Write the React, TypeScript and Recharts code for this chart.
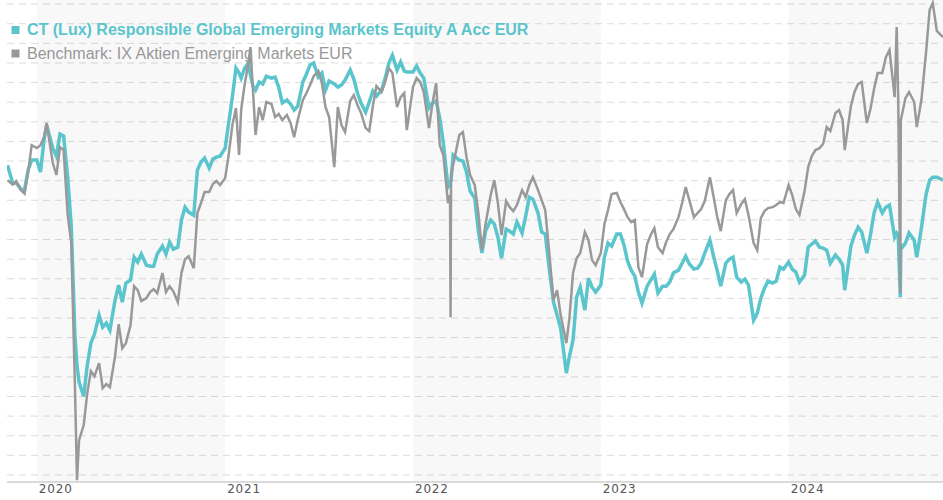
import React from "react";
import { LineChart, Line, XAxis, YAxis, CartesianGrid, ReferenceArea } from "recharts";

// Sample dates (about weekly, plus a few extra days around sharp moves)
const dates = [
  "2019-11-05", "2019-11-15", "2019-11-22", "2019-12-01", "2019-12-08", "2019-12-15", "2019-12-22",
  "2020-01-01", "2020-01-08", "2020-01-15", "2020-01-20", "2020-02-01", "2020-02-08", "2020-02-15", "2020-02-22",
  "2020-03-01", "2020-03-08", "2020-03-15", "2020-03-19", "2020-03-23", "2020-04-01", "2020-04-08", "2020-04-15", "2020-04-22",
  "2020-05-01", "2020-05-08", "2020-05-15", "2020-05-22", "2020-06-01", "2020-06-08", "2020-06-15", "2020-06-22",
  "2020-07-01", "2020-07-08", "2020-07-15", "2020-07-22", "2020-08-01", "2020-08-08", "2020-08-15", "2020-08-22",
  "2020-09-01", "2020-09-08", "2020-09-15", "2020-09-22", "2020-10-01", "2020-10-08", "2020-10-15", "2020-10-22",
  "2020-11-01", "2020-11-08", "2020-11-15", "2020-11-22", "2020-12-01", "2020-12-08", "2020-12-15", "2020-12-22",
  "2021-01-01", "2021-01-08", "2021-01-15", "2021-01-22", "2021-01-28", "2021-02-01", "2021-02-08", "2021-02-15", "2021-02-19", "2021-02-24",
  "2021-03-01", "2021-03-08", "2021-03-15", "2021-03-22", "2021-04-01", "2021-04-08", "2021-04-15", "2021-04-22",
  "2021-05-01", "2021-05-08", "2021-05-15", "2021-05-22", "2021-06-01", "2021-06-08", "2021-06-15", "2021-06-22",
  "2021-07-01", "2021-07-08", "2021-07-15", "2021-07-22", "2021-08-01", "2021-08-08", "2021-08-15", "2021-08-22",
  "2021-09-01", "2021-09-08", "2021-09-15", "2021-09-22", "2021-10-01", "2021-10-08", "2021-10-15", "2021-10-22",
  "2021-11-01", "2021-11-08", "2021-11-15", "2021-11-22", "2021-12-01", "2021-12-08", "2021-12-15", "2021-12-20",
  "2022-01-01", "2022-01-08", "2022-01-15", "2022-01-22", "2022-02-01", "2022-02-08", "2022-02-15", "2022-02-22",
  "2022-03-01", "2022-03-10", "2022-03-14", "2022-03-15", "2022-03-16", "2022-03-20", "2022-04-01", "2022-04-08", "2022-04-15", "2022-04-22",
  "2022-05-01", "2022-05-08", "2022-05-15", "2022-05-22", "2022-06-01", "2022-06-08", "2022-06-15", "2022-06-22",
  "2022-07-01", "2022-07-08", "2022-07-15", "2022-07-22", "2022-08-01", "2022-08-08", "2022-08-15", "2022-08-22",
  "2022-09-01", "2022-09-08", "2022-09-15", "2022-09-22", "2022-10-01", "2022-10-08", "2022-10-15", "2022-10-26",
  "2022-11-01", "2022-11-08", "2022-11-15", "2022-11-22", "2022-12-01", "2022-12-08", "2022-12-15", "2022-12-22",
  "2023-01-01", "2023-01-08", "2023-01-15", "2023-01-22", "2023-02-01", "2023-02-08", "2023-02-15", "2023-02-22",
  "2023-03-01", "2023-03-08", "2023-03-15", "2023-03-22", "2023-04-01", "2023-04-08", "2023-04-15", "2023-04-22",
  "2023-05-01", "2023-05-08", "2023-05-15", "2023-05-22", "2023-06-01", "2023-06-08", "2023-06-15", "2023-06-22",
  "2023-07-01", "2023-07-08", "2023-07-15", "2023-07-22", "2023-08-01", "2023-08-08", "2023-08-15", "2023-08-22",
  "2023-09-01", "2023-09-08", "2023-09-15", "2023-09-22", "2023-10-01", "2023-10-08", "2023-10-15", "2023-10-25",
  "2023-11-01", "2023-11-08", "2023-11-15", "2023-11-22", "2023-12-01", "2023-12-08", "2023-12-15", "2023-12-22",
  "2024-01-01", "2024-01-08", "2024-01-15", "2024-01-22", "2024-02-01", "2024-02-08", "2024-02-15", "2024-02-22",
  "2024-03-01", "2024-03-08", "2024-03-15", "2024-03-22", "2024-04-01", "2024-04-08", "2024-04-15", "2024-04-19",
  "2024-05-01", "2024-05-08", "2024-05-15", "2024-05-22", "2024-06-01", "2024-06-08", "2024-06-15", "2024-06-22",
  "2024-07-01", "2024-07-08", "2024-07-15", "2024-07-25", "2024-07-29", "2024-08-01", "2024-08-05", "2024-08-06", "2024-08-09", "2024-08-15", "2024-08-22",
  "2024-09-01", "2024-09-06", "2024-09-15", "2024-09-24", "2024-10-01", "2024-10-07", "2024-10-15", "2024-10-27",
];

// CT (Lux) Responsible Global Emerging Markets Equity A Acc EUR
const fundValues = [
  177.9, 168.8, 168.8, 165.7, 165.2, 175.4, 180.5,
  180.5, 174.4, 190.7, 198.4, 186.6, 182.5, 193.8, 192.7,
  171.8, 146.3, 91.2, 75.9, 67.3, 60.1, 75.9, 87.2, 91.8,
  101.4, 95.3, 97.4, 93.8, 109.1, 116.8, 108.1, 117.8,
  119.3, 131.0, 128.5, 132.6, 126.9, 126.4, 126.4, 132.6,
  136.6, 132.6, 138.7, 135.1, 136.1, 149.9, 156.5, 154.0,
  152.4, 175.4, 179.5, 181.5, 176.4, 181.0, 182.0, 182.5,
  186.6, 199.9, 212.6, 227.4, 224.9, 222.3, 227.4, 230.0, 223.9, 218.2,
  216.2, 220.3, 219.3, 223.3, 222.3, 222.8, 217.7, 209.6,
  211.1, 209.1, 206.0, 208.0, 220.3, 224.4, 229.0, 230.0,
  222.8, 224.9, 216.2, 220.8, 219.3, 217.7, 218.8, 221.3,
  226.4, 221.8, 214.7, 209.6, 205.0, 210.1, 215.7, 213.1,
  216.2, 222.3, 230.0, 234.0, 226.4, 230.5, 225.9, 225.4,
  225.4, 228.4, 224.9, 222.3, 207.0, 209.6, 210.6, 201.9,
  189.2, 166.7, 168.3, 169.3, 170.3, 183.1, 180.5, 180.0, 174.4, 164.7,
  161.1, 144.3, 133.1, 144.3, 149.9, 147.9, 141.2, 130.5,
  145.3, 144.3, 142.8, 148.9, 143.3, 151.9, 161.6, 160.6,
  153.5, 143.8, 142.8, 126.9, 108.1, 101.5, 94.8, 71.9,
  80.5, 88.7, 110.6, 115.7, 104.0, 120.3, 115.7, 113.2,
  116.8, 131.0, 138.2, 136.6, 142.8, 142.8, 137.2, 129.0,
  124.4, 121.3, 113.2, 107.6, 116.2, 119.3, 122.4, 112.7,
  116.2, 116.2, 118.3, 122.9, 124.4, 127.9, 131.5, 127.5,
  124.9, 125.4, 128.0, 133.1, 139.7, 131.5, 124.4, 116.2,
  128.0, 130.0, 131.0, 120.8, 118.3, 119.8, 116.8, 98.9,
  102.5, 110.1, 115.2, 118.8, 117.8, 118.8, 125.9, 124.9,
  128.5, 124.9, 123.4, 118.3, 121.9, 136.1, 137.7, 139.2,
  136.1, 135.6, 134.6, 127.9, 132.1, 130.0, 127.0, 114.2,
  136.6, 142.3, 146.3, 143.8, 133.1, 142.3, 153.5, 159.1,
  153.5, 156.5, 157.6, 141.2, 143.3, 142.2, 110.6, 137.2, 136.1, 138.2, 143.3,
  139.7, 131.0, 145.8, 162.9, 170.3, 171.8, 171.8, 170.3,
];

// Benchmark: IX Aktien Emerging Markets EUR
const benchmarkValues = [
  170.3, 168.0, 169.8, 165.2, 163.4, 174.4, 188.1,
  186.6, 188.1, 192.2, 199.4, 179.0, 172.9, 187.1, 185.6,
  152.4, 138.2, 65.7, 17.3, 37.7, 45.3, 61.7, 72.9, 70.3,
  77.0, 64.2, 66.3, 64.7, 80.5, 96.9, 84.6, 87.2,
  96.3, 116.2, 114.2, 108.6, 110.1, 113.2, 114.7, 112.7,
  122.9, 113.2, 116.2, 113.7, 108.1, 122.9, 130.0, 131.5,
  125.4, 153.5, 158.6, 164.2, 164.2, 168.3, 169.8, 167.8,
  171.3, 183.6, 198.4, 207.0, 183.1, 206.0, 219.3, 229.5, 238.1, 216.2,
  193.3, 207.5, 200.9, 210.1, 209.1, 202.4, 204.0, 200.9,
  203.5, 199.4, 192.2, 200.9, 211.1, 214.7, 218.8, 223.3,
  225.9, 219.8, 207.5, 202.4, 176.9, 207.5, 198.4, 194.8,
  210.6, 213.6, 208.6, 204.5, 196.8, 195.3, 208.0, 218.2,
  215.2, 220.3, 227.4, 224.9, 207.5, 212.6, 214.7, 195.8,
  217.7, 222.3, 220.3, 215.2, 196.8, 209.6, 219.8, 188.1,
  183.1, 158.6, 162.7, 100.4, 172.9, 178.0, 193.3, 194.8, 182.0, 172.9,
  167.8, 153.5, 134.6, 147.9, 162.7, 170.3, 158.6, 142.3,
  159.6, 156.5, 154.5, 157.6, 165.2, 161.6, 167.8, 171.8,
  165.2, 160.1, 155.0, 135.6, 109.1, 114.2, 101.5, 87.2,
  99.9, 122.9, 130.5, 133.1, 143.8, 139.7, 129.5, 126.9,
  133.1, 147.9, 155.0, 163.2, 163.7, 159.1, 155.5, 151.4,
  148.9, 149.9, 125.9, 120.8, 137.7, 142.3, 145.8, 136.1,
  133.1, 138.7, 142.8, 145.3, 151.4, 158.6, 166.7, 160.1,
  151.4, 153.5, 155.5, 159.6, 171.8, 162.1, 151.9, 144.3,
  160.1, 163.2, 165.2, 153.5, 158.1, 160.6, 152.5, 138.2,
  134.6, 150.9, 154.5, 156.0, 156.5, 157.6, 159.1, 158.6,
  167.8, 162.7, 155.5, 152.5, 164.7, 176.9, 182.5, 185.6,
  186.6, 188.7, 197.3, 195.3, 204.5, 206.0, 200.9, 185.6,
  208.0, 215.2, 219.3, 220.3, 199.4, 206.5, 216.7, 224.9,
  224.9, 233.0, 236.6, 212.6, 248.3, 211.1, 112.7, 200.9, 204.5, 212.1, 215.2,
  210.1, 197.3, 211.1, 235.1, 257.0, 260.6, 246.3, 243.2,
];

const yearTicks = ["2020-01-01", "2021-01-01", "2022-01-01", "2023-01-01", "2024-01-01"];
const shadedYears = [
  ["2020-01-01", "2021-01-01"],
  ["2022-01-01", "2023-01-01"],
  ["2024-01-01", "2024-10-27"],
];
const gridTicks = [20, 30, 40, 50, 60, 70, 80, 90, 100, 110, 120, 130, 140, 150, 160, 170, 180, 190, 200, 210, 220, 230, 240, 250, 260];

const FUND_NAME = "CT (Lux) Responsible Global Emerging Markets Equity A Acc EUR";
const BENCH_NAME = "Benchmark: IX Aktien Emerging Markets EUR";
const TEAL = "#5bc5cd";
const GRAY = "#999999";
const Y_DOMAIN = [16.4, 262.1];

const toTime = (d: string) => Date.parse(d);

const data = dates.map((d, i) => ({
  t: toTime(d),
  fund: fundValues[i],
  bench: benchmarkValues[i],
}));

// grid rows at the y values in gridTicks
function gridRows(props: any) {
  const scale = props?.yAxis?.scale;
  if (typeof scale === "function") return gridTicks.map((v) => scale(v));
  if (scale && typeof scale.map === "function") return gridTicks.map((v) => scale.map(v));
  const top = props?.offset?.top ?? 0;
  const h = props?.offset?.height ?? props?.height ?? 0;
  return gridTicks.map((v) => top + ((Y_DOMAIN[1] - v) / (Y_DOMAIN[1] - Y_DOMAIN[0])) * h);
}

function YearTick({ x, y, payload }: any) {
  return (
    <text
      x={x + 2}
      y={y + 11}
      fill="#555"
      fontSize={12}
      letterSpacing={0.8}
      fontFamily="'DejaVu Sans', Verdana, sans-serif"
    >
      {new Date(payload.value).getUTCFullYear()}
    </text>
  );
}

function LegendOverlay() {
  const font = "'Liberation Sans', Arial, sans-serif";
  return (
    <svg width={943} height={70} style={{ position: "absolute", left: 0, top: 0, pointerEvents: "none" }}>
      <rect x={11.5} y={26} width={8} height={8} fill={TEAL} />
      <text x={27} y={35} fill={TEAL} fontSize={16} fontWeight="bold" fontFamily={font}>
        {FUND_NAME}
      </text>
      <rect x={11.5} y={49.5} width={8} height={8} fill={GRAY} />
      <text x={27} y={59} fill={GRAY} fontSize={16} fontFamily={font}>
        {BENCH_NAME}
      </text>
    </svg>
  );
}

export default function App() {
  return (
    <div style={{ position: "absolute", left: 0, top: 0, width: 943, height: 500, background: "#fff" }}>
      <LineChart width={943} height={500} data={data} margin={{ top: 0, right: 0, bottom: 0, left: 7 }}>
        {shadedYears.map(([a, b]) => (
          <ReferenceArea
            key={a}
            x1={toTime(a)}
            x2={toTime(b)}
            fill="#000"
            fillOpacity={0.028}
            stroke="none"
            ifOverflow="hidden"
          />
        ))}
        <CartesianGrid
          vertical={false}
          stroke="#dcdcdc"
          strokeDasharray="7 5"
          horizontalCoordinatesGenerator={gridRows}
        />
        <XAxis
          dataKey="t"
          type="number"
          domain={[toTime("2019-11-04"), toTime("2024-10-27")]}
          ticks={yearTicks.map(toTime)}
          tick={<YearTick />}
          tickLine={false}
          tickSize={0}
          tickMargin={0}
          height={18}
          interval={0}
          allowDataOverflow
          axisLine={{ stroke: "#dadada", strokeWidth: 2 }}
        />
        <YAxis
          type="number"
          domain={Y_DOMAIN}
          ticks={gridTicks}
          width={0}
          tick={false}
          axisLine={false}
          tickLine={false}
          interval={0}
          allowDataOverflow
        />
        <Line
          type="linear"
          dataKey="fund"
          name={FUND_NAME}
          stroke={TEAL}
          strokeWidth={3.5}
          dot={false}
          isAnimationActive={false}
        />
        <Line
          type="linear"
          dataKey="bench"
          name={BENCH_NAME}
          stroke={GRAY}
          strokeWidth={2.5}
          dot={false}
          isAnimationActive={false}
        />
      </LineChart>
      <LegendOverlay />
    </div>
  );
}
